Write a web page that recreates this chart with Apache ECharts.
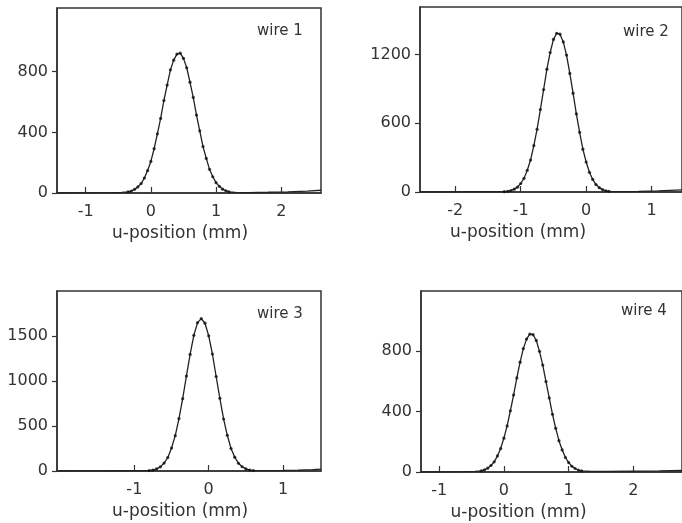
<!DOCTYPE html>
<html>
<head>
<meta charset="utf-8">
<script src="https://cdn.jsdelivr.net/npm/echarts@6/dist/echarts.min.js"></script>
<style>
html,body{margin:0;padding:0;background:#fff;}
#chart{width:682px;height:523px;}
</style>
</head>
<body>
<div id="chart"></div>
<script>
// ---- data ----
const panelTitles = ['wire 1', 'wire 2', 'wire 3', 'wire 4'];
const xTicks1 = [-1, 0, 1, 2];
const yTicks1 = [0, 400, 800];
const xTicks2 = [-2, -1, 0, 1];
const yTicks2 = [0, 600, 1200];
const xTicks3 = [-1, 0, 1];
const yTicks3 = [0, 500, 1000, 1500];
const xTicks4 = [-1, 0, 1, 2];
const yTicks4 = [0, 400, 800];

// wire 1 measured points (u-position mm, counts)
const wire1X = [-0.35,-0.30,-0.25,-0.20,-0.15,-0.10,-0.05,0.00,0.05,0.10,0.15,0.20,0.25,0.30,0.35,0.40,0.45,0.50,0.55,0.60,0.65,0.70,0.75,0.80,0.85,0.90,0.95,1.00,1.05,1.10,1.15,1.20];
const wire1Y = [7,13,24,40,62,99,148,208,292,390,492,610,712,812,876,916,922,888,826,731,630,514,410,306,228,156,107,68,44,25,15,8];
const wire1TailX = [-1.44,-1.0,-0.6,-0.45,1.3,1.5,1.8,2.1,2.4,2.61];
const wire1TailY = [0,1,2,4,4,3,5,8,12,18];

// wire 2
const wire2X = [-1.25,-1.20,-1.15,-1.10,-1.05,-1.00,-0.95,-0.90,-0.85,-0.80,-0.75,-0.70,-0.65,-0.60,-0.55,-0.50,-0.45,-0.40,-0.35,-0.30,-0.25,-0.20,-0.15,-0.10,-0.05,0.00,0.05,0.10,0.15,0.20,0.25,0.30,0.35];
const wire2Y = [3,6,13,25,42,74,119,190,279,405,548,720,895,1072,1218,1332,1386,1378,1310,1195,1035,863,682,521,374,262,172,110,65,38,21,11,6];
const wire2TailX = [-2.54,-2.0,-1.6,-1.4,0.5,0.8,1.1,1.465];
const wire2TailY = [0,1,2,2,3,5,9,18];

// wire 3
const wire3X = [-0.80,-0.75,-0.70,-0.65,-0.60,-0.55,-0.50,-0.45,-0.40,-0.35,-0.30,-0.25,-0.20,-0.15,-0.10,-0.05,0.00,0.05,0.10,0.15,0.20,0.25,0.30,0.35,0.40,0.45,0.50,0.55,0.60];
const wire3Y = [5,11,24,46,88,150,255,393,583,804,1055,1295,1508,1648,1693,1642,1502,1300,1050,808,578,397,250,154,86,47,23,11,5];
const wire3TailX = [-2.04,-1.6,-1.2,-1.0,0.8,1.0,1.2,1.4,1.51];
const wire3TailY = [0,1,3,3,4,6,10,15,20];

// wire 4
const wire4X = [-0.35,-0.30,-0.25,-0.20,-0.15,-0.10,-0.05,0.00,0.05,0.10,0.15,0.20,0.25,0.30,0.35,0.40,0.45,0.50,0.55,0.60,0.65,0.70,0.75,0.80,0.85,0.90,0.95,1.00,1.05,1.10,1.15,1.20];
const wire4Y = [8,14,25,43,67,106,155,224,305,405,510,622,726,816,879,912,908,870,798,707,598,490,382,289,207,146,96,62,38,23,13,7];
const wire4TailX = [-1.28,-0.9,-0.6,-0.45,1.35,1.6,2.0,2.4,2.75];
const wire4TailY = [0,1,2,4,4,4,6,8,10];

const xRanges = [[-1.44, 2.61], [-2.54, 1.465], [-2.04, 1.51], [-1.28, 2.75]];
const yMaxes = [1220, 1615, 2000, 1197];

// ---- build chart ----
function pairs(xs, ys) { return xs.map((x, i) => [x, ys[i]]); }
function lineData(xs, ys, tx, ty) {
  return pairs(xs, ys).concat(pairs(tx, ty)).sort((a, b) => a[0] - b[0]);
}
const measuredX = [wire1X, wire2X, wire3X, wire4X];
const measuredY = [wire1Y, wire2Y, wire3Y, wire4Y];
const tailX = [wire1TailX, wire2TailX, wire3TailX, wire4TailX];
const tailY = [wire1TailY, wire2TailY, wire3TailY, wire4TailY];
const xTicks = [xTicks1, xTicks2, xTicks3, xTicks4];
const yTicks = [yTicks1, yTicks2, yTicks3, yTicks4];

const FONT = 'DejaVu Sans';
const INK = '#333';
const grids = [
  {left: 57, top: 8, right: 361, bottom: 330},
  {left: 420, top: 7, right: -3, bottom: 331},
  {left: 57, top: 291, right: 361, bottom: 52},
  {left: 421, top: 291, right: -3, bottom: 51}
];
const titlePos = [
  {left: 257, top: 24},
  {left: 623, top: 25},
  {left: 257, top: 307},
  {left: 621, top: 304}
];
const namePad = [[0, 18, 0, 0], [0, 66, 0, 0], [0, 18, 0, 0], [0, 66, 0, 0]];
const plain = v => String(v);

const option = {
  animation: false,
  backgroundColor: '#fff',
  title: panelTitles.map((t, i) => ({
    text: t, left: titlePos[i].left, top: titlePos[i].top, padding: 0,
    textStyle: {fontFamily: FONT, fontSize: 15, fontWeight: 'normal', color: INK}
  })),
  grid: grids.map(g => Object.assign({show: true, borderColor: INK, borderWidth: 1.5, containLabel: false}, g)),
  xAxis: grids.map((g, i) => ({
    type: 'value', gridIndex: i, min: xRanges[i][0], max: xRanges[i][1],
    name: 'u-position (mm)', nameLocation: 'middle', nameGap: 32,
    nameTextStyle: {fontFamily: FONT, fontSize: 17, color: INK, padding: namePad[i]},
    axisLine: {show: true, onZero: false, lineStyle: {color: INK, width: 1.5}},
    axisTick: {show: true, inside: true, length: 6, customValues: xTicks[i], lineStyle: {color: INK, width: 1.2}},
    axisLabel: {show: true, margin: 11, customValues: xTicks[i], formatter: plain, fontFamily: FONT, fontSize: 16, color: INK},
    splitLine: {show: false}
  })),
  yAxis: grids.map((g, i) => ({
    type: 'value', gridIndex: i, min: 0, max: yMaxes[i],
    axisLine: {show: true, onZero: false, lineStyle: {color: INK, width: 1.5}},
    axisTick: {show: true, inside: false, length: 5, customValues: yTicks[i], lineStyle: {color: INK, width: 1.2}},
    axisLabel: {show: true, margin: 9, customValues: yTicks[i], formatter: plain, fontFamily: FONT, fontSize: 16, color: INK},
    splitLine: {show: false}
  })),
  series: []
};
for (let i = 0; i < 4; i++) {
  option.series.push({
    type: 'line', xAxisIndex: i, yAxisIndex: i, showSymbol: false, silent: true,
    data: lineData(measuredX[i], measuredY[i], tailX[i], tailY[i]),
    lineStyle: {color: '#222', width: 1.3}, z: 2
  });
  option.series.push({
    type: 'scatter', xAxisIndex: i, yAxisIndex: i, silent: true,
    data: pairs(measuredX[i], measuredY[i]),
    symbolSize: 3.2, itemStyle: {color: '#111'}, z: 3
  });
}
const chart = echarts.init(document.getElementById('chart'), null, {renderer: 'canvas'});
chart.setOption(option);
</script>
</body>
</html>
